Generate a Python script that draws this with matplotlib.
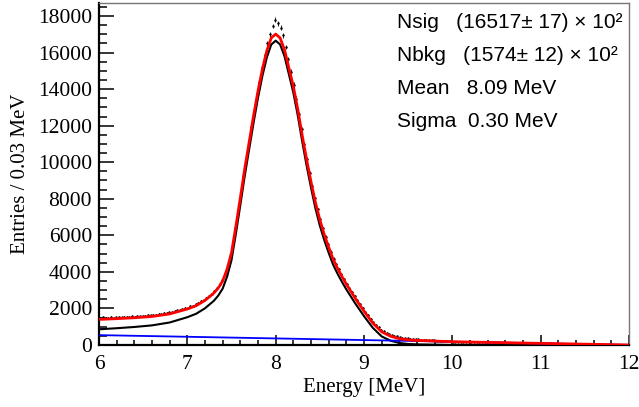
import numpy as np
import matplotlib
matplotlib.use("Agg")
import matplotlib.pyplot as plt

# Curvas do ajuste (Entries / 0.03 MeV)
energia_fit = [6.0, 6.2, 6.4, 6.6, 6.8, 7.0, 7.1, 7.2, 7.3, 7.35, 7.4, 7.45, 7.5, 7.55,
               7.6, 7.65, 7.7, 7.75, 7.8, 7.85, 7.9, 7.95, 8.0, 8.05, 8.1, 8.15, 8.2,
               8.25, 8.3, 8.35, 8.4, 8.45, 8.5, 8.55, 8.6, 8.65, 8.7, 8.75, 8.8, 8.9,
               9.0, 9.1, 9.2, 9.3, 9.4, 9.5, 9.6, 9.8, 10.0, 10.5, 11.0, 11.5, 12.0]
total = [1400, 1440, 1490, 1560, 1700, 1970, 2150, 2440, 2840, 3120, 3500, 4150, 5050, 6500,
         8050, 9650, 11100, 12550, 13900, 15100, 16100, 16800, 17010, 16800, 16150, 15150, 14150,
         12900, 11480, 10150, 8930, 7800, 6850, 6050, 5350, 4700, 4200, 3750, 3330, 2560,
         1850, 1200, 720, 480, 345, 280, 250, 215, 180, 135, 90, 45, 0]
sinal = [860, 918, 986, 1074, 1232, 1520, 1709, 2008, 2417, 2702, 3086, 3740, 4645, 6100,
         7654, 9258, 10713, 12167, 13522, 14726, 15731, 16435, 16650, 16444, 15799, 14803, 13808,
         12562, 11147, 9821, 8606, 7480, 6535, 5740, 5044, 4398, 3903, 3457, 3042, 2281,
         1580, 939, 468, 237, 111, 55, 34, 17, 0, 0, 0, 0, 0]

energia_bkg = [6, 7, 8, 9, 10, 11, 12]
fundo = [540, 450, 360, 270, 180, 90, 0]

# Dados: 200 bins de 0.03 MeV entre 6 e 12 MeV
centros = np.arange(6.015, 12.0, 0.03)
dados = [
    1480, 1510, 1470, 1500, 1530, 1490, 1520, 1545, 1505, 1540,
    1550, 1525, 1570, 1555, 1590, 1570, 1610, 1595, 1630, 1615,
    1650, 1660, 1690, 1705, 1740, 1745, 1785, 1800, 1860, 1890,
    1940, 1960, 2020, 2050, 2120, 2150, 2230, 2290, 2390, 2470,
    2570, 2700, 2810, 2950, 3110, 3310, 3540, 3900, 4320, 4850,
    5560, 6420, 7350, 8280, 9250, 10160, 11050, 11930, 12800, 13620,
    14400, 15150, 15850, 16500, 17000, 17450, 17800, 17600, 17350, 16950,
    16300, 15650, 14950, 14250, 13480, 12650, 11800, 10980, 10180, 9430,
    8720, 8030, 7430, 6870, 6380, 5930, 5510, 5110, 4730, 4430,
    4140, 3870, 3610, 3360, 3130, 2900, 2670, 2450, 2240, 2030,
    1830, 1640, 1440, 1260, 1110, 970, 830, 740, 670, 600,
    550, 510, 470, 430, 410, 390, 365, 350, 335, 325,
    310, 300, 290, 285, 275, 265, 255, 245, 240, 230,
    220, 210, 200, 190, 185, 170, 180, 165, 172, 160,
    168, 150, 160, 148, 155, 142, 150, 138, 145, 132,
    138, 126, 133, 120, 128, 116, 122, 110, 117, 104,
    111, 100, 105, 95, 99, 89, 94, 84, 88, 78,
    83, 73, 77, 68, 72, 62, 66, 57, 61, 52,
    55, 47, 50, 41, 44, 36, 39, 30, 33, 25,
    27, 20, 22, 15, 16, 10, 11, 5, 5, 2,
]

textos = ["Nsig   (16517\u00b1 17) \u00d7 10\u00b2",
          "Nbkg   (1574\u00b1 12) \u00d7 10\u00b2",
          "Mean   8.09 MeV",
          "Sigma  0.30 MeV"]

fig = plt.figure(figsize=(6.39, 4.07), dpi=100)
ax = fig.add_axes([99 / 639, 1 - 345 / 407, 530 / 639, 342 / 407])

ax.errorbar(centros, dados, yerr=np.sqrt(dados), fmt='.', color='black',
            markersize=1.6, elinewidth=0.6, capsize=0, zorder=2)
ax.plot(energia_fit, sinal, color='black', linewidth=1.5, zorder=3)
ax.plot(energia_bkg, fundo, color='blue', linewidth=1.3, zorder=4)
ax.plot(energia_fit, total, color='red', linewidth=2.0, zorder=5)

ax.set_xlim(6, 12)
ax.set_ylim(0, 18710)

serif = 'Liberation Serif'
ax.set_xticks(range(6, 13))
ax.set_xticks(np.arange(6, 12.01, 0.2), minor=True)
ax.set_yticks(range(0, 18001, 2000))
ax.set_yticks(range(0, 18501, 500), minor=True)
for lab in ax.get_xticklabels() + ax.get_yticklabels():
    lab.set_fontfamily(serif)
    lab.set_fontsize(15.5)

ax.tick_params(axis='y', which='major', direction='in', length=11, width=1.1, pad=5)
ax.tick_params(axis='y', which='minor', direction='in', length=5.5, width=1.1)
ax.tick_params(axis='x', which='major', direction='in', length=7.5, width=1.1, pad=7)
ax.tick_params(axis='x', which='minor', direction='in', length=3.8, width=1.1)
ax.tick_params(top=False, right=False)

ax.spines['left'].set_linewidth(1.6)
ax.spines['bottom'].set_linewidth(1.6)
ax.spines['top'].set_color('#777777')
ax.spines['right'].set_color('#777777')
ax.spines['top'].set_linewidth(1.0)
ax.spines['right'].set_linewidth(1.0)

ax.set_xlabel('Energy [MeV]', fontfamily=serif, fontsize=15, labelpad=3)
ax.set_ylabel('Entries / 0.03 MeV', fontfamily=serif, fontsize=15, labelpad=6)

for i, t in enumerate(textos):
    fig.text(397 / 639, 1 - (22 + 33.3 * i) / 407, t, fontfamily='Liberation Sans',
             fontsize=15, va='center', ha='left')

fig.savefig('out.png', dpi=100)
